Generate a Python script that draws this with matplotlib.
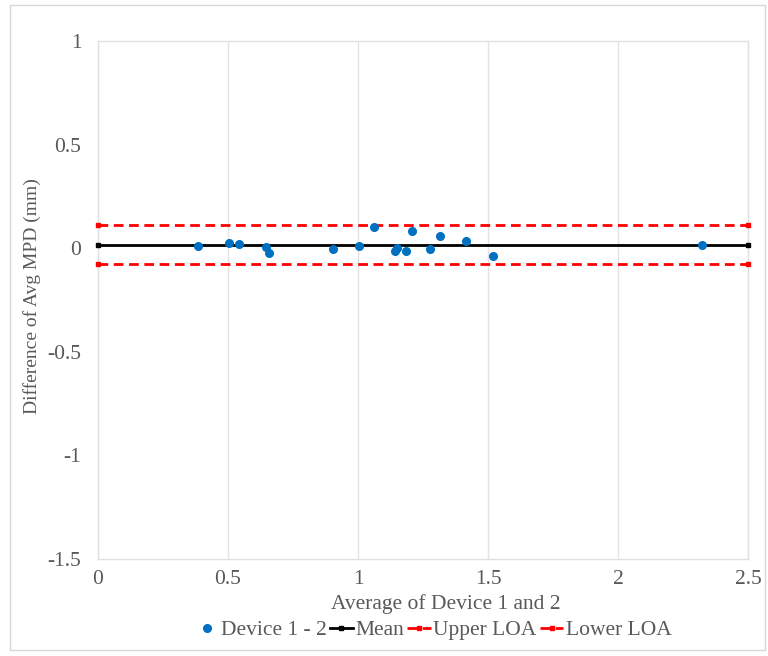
import matplotlib.pyplot as plt
from matplotlib.patches import Rectangle

# Bland-Altman data: average of the two devices vs. their difference
avg_mpd = [0.386, 0.504, 0.541, 0.646, 0.659, 0.905, 1.005, 1.062, 1.142,
           1.151, 1.185, 1.209, 1.277, 1.317, 1.414, 1.518, 2.322]
diff_mpd = [0.012, 0.025, 0.020, 0.007, -0.025, -0.005, 0.012, 0.104, -0.012,
            0.002, -0.014, 0.084, -0.005, 0.059, 0.036, -0.038, 0.015]

mean_diff = 0.017
upper_loa = 0.112
lower_loa = -0.078
line_x = [0, 2.5]

x_ticks = [0, 0.5, 1, 1.5, 2, 2.5]
y_ticks = [-1.5, -1, -0.5, 0, 0.5, 1]

plt.rcParams['font.family'] = ['Liberation Serif', 'DejaVu Serif']
FS = 15.5

fig = plt.figure(figsize=(7.68, 6.56), dpi=100)
ax = fig.add_axes([98 / 768, 1 - 559 / 656, 650 / 768, 518 / 656])

# chart area frame
fig.patches.append(Rectangle((10 / 768, 1 - 650 / 656), 755 / 768, 645 / 656,
                             transform=fig.transFigure, fill=False,
                             edgecolor='#d9d9d9', linewidth=1))

ax.plot(avg_mpd, diff_mpd, 'o', color='#0070c0', markersize=5.5,
        label='Device 1 - 2', zorder=4)
ax.plot(line_x, [mean_diff] * 2, '-s', color='black', linewidth=2,
        markersize=3.5, label='Mean', zorder=3)
ax.plot(line_x, [upper_loa] * 2, '--s', color='#ff0000', linewidth=2,
        markersize=3.5, dashes=(3.5, 2), label='Upper LOA', zorder=3)
ax.plot(line_x, [lower_loa] * 2, '--s', color='#ff0000', linewidth=2,
        markersize=3.5, dashes=(3.5, 2), label='Lower LOA', zorder=3)

ax.set_xlim(0, 2.5)
ax.set_ylim(-1.5, 1)
ax.set_xticks(x_ticks)
ax.set_yticks(y_ticks)
ax.set_xticklabels(['0', '0.5', '1', '1.5', '2', '2.5'])
ax.set_yticklabels(['-1.5', '-1', '-0.5', '0', '0.5', '1'])
ax.tick_params(length=0, labelsize=FS, labelcolor='#595959')
ax.tick_params(axis='x', pad=8)
ax.tick_params(axis='y', pad=12)
ax.grid(axis='x', color='#e3e3e3', linewidth=1)
ax.set_axisbelow(True)
for s in ax.spines.values():
    s.set_color('#e0e0e0')
    s.set_linewidth(1)
for ln in ax.lines:
    ln.set_clip_on(False)

fig.text(446 / 768, 1 - 604 / 656, 'Average of Device 1 and 2', ha='center',
         va='center', fontsize=FS, color='#595959')
fig.text(32 / 768, 1 - 296 / 656, 'Difference of Avg MPD (mm)', ha='center',
         va='center', rotation=90, fontsize=14, color='#595959')

fig.legend(loc='center', bbox_to_anchor=(433 / 768, 1 - 630 / 656), ncol=4,
           frameon=False, fontsize=FS, handlelength=1.1, handletextpad=0.1,
           columnspacing=0.15, labelcolor='#595959')

fig.savefig('out.png', dpi=100)
